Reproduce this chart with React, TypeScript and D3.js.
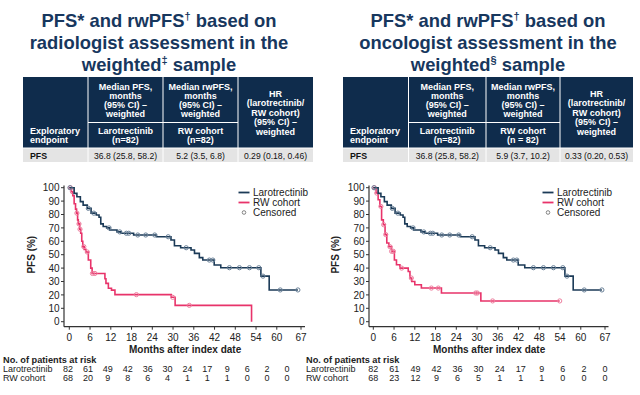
import * as d3 from 'd3';

const FONT = '"Liberation Sans", Arial, Helvetica, sans-serif';
const TITLE = '#17375e';
const HEAD = '#0f2c4c';
const NAVY = '#1b3a57';
const PINK = '#e8336a';

const xTicks = [0, 6, 12, 18, 24, 30, 36, 42, 48, 54, 60, 67];
const yTicks = [0, 10, 20, 30, 40, 50, 60, 70, 80, 90, 100];

// Larotrectinib (same cohort in both panels)
const larTimes = [0, 1.4, 2.2, 3.2, 4.0, 5.2, 6.3, 7.8, 8.6, 9.1, 9.8, 10.8, 11.7, 13.8, 15.0, 18.6, 25.2, 29.4, 30.4, 32.2, 35.2, 36.2, 37.6, 38.6, 41.9, 43.8, 55.4, 57.8];
const larSurv = [100, 95.8, 93.3, 89.6, 87, 84.6, 81, 79.6, 78, 73, 71, 70, 68.4, 67, 66, 64.7, 63.4, 61, 56.7, 55.2, 53.5, 51, 47.8, 46, 42.3, 40.3, 34, 23.7];
const larCensor = [0.2, 5.5, 7.1, 11.5, 14.6, 16.5, 17.2, 19.8, 22.1, 24.7, 28.6, 33.8, 40.5, 41.5, 46.3, 49.2, 52.1, 54.8, 56, 61, 66.1];
const larEnd = 66.1;

// RW cohort, radiologist assessment
const rwRadTimes = [0, 0.6, 1.0, 1.4, 1.8, 2.1, 2.4, 2.6, 3.0, 3.3, 3.6, 3.9, 4.3, 4.8, 5.5, 6.2, 6.6, 10.3, 10.6, 11.3, 12.2, 13.2, 29.5, 30.6, 52.7];
const rwRadSurv = [100, 97, 94, 88, 84, 81, 76, 73, 69, 66, 60, 56, 54, 52, 46, 40, 36, 32, 28.6, 25, 23.6, 20.2, 18.2, 12.2, 0];
const rwRadCensor = [0.3, 0.9, 2.2, 2.8, 3.1, 4.2, 5.2, 6.7, 7.4, 19.4, 29.9, 34.7];
const rwRadEnd = 52.7;

// RW cohort, oncologist assessment
const rwOncTimes = [0, 0.8, 1.4, 1.9, 2.4, 2.9, 3.4, 3.9, 4.5, 5.3, 6.1, 6.7, 7.7, 10.1, 10.6, 11.1, 12.0, 13.9, 19.7, 31.1];
const rwOncSurv = [100, 96, 91, 86, 76, 72.4, 65, 58.7, 56, 52.5, 46, 42.5, 40, 37.5, 32.6, 30, 27.6, 25.1, 21.4, 15.5];
const rwOncCensor = [0.3, 1.0, 2.2, 3.0, 3.6, 4.8, 5.3, 5.8, 8.2, 11.0, 16.8, 18.8, 29.6, 30.1, 34.5, 53.9];
const rwOncEnd = 53.9;

const riskLar = [82, 61, 49, 42, 36, 30, 24, 17, 9, 6, 2, 0];
const riskRwRad = [68, 20, 9, 8, 6, 4, 1, 1, 1, 0, 0, 0];
const riskRwOnc = [68, 23, 12, 9, 6, 5, 1, 1, 1, 0, 0, 0];

const titleRad = [
  [{ t: 'PFS* and rwPFS' }, { t: '†', sup: true }, { t: ' based on' }],
  [{ t: 'radiologist assessment in the' }],
  [{ t: 'weighted' }, { t: '‡', sup: true }, { t: ' sample' }],
];
const titleOnc = [
  [{ t: 'PFS* and rwPFS' }, { t: '†', sup: true }, { t: ' based on' }],
  [{ t: 'oncologist assessment in the' }],
  [{ t: 'weighted' }, { t: '§', sup: true }, { t: ' sample' }],
];

const tableRad = { rwN: '(n=82)', vals: ['36.8 (25.8, 58.2)', '5.2 (3.5, 6.8)', '0.29 (0.18, 0.46)'] };
const tableOnc = { rwN: '(n = 82)', vals: ['36.8 (25.8, 58.2)', '5.9 (3.7, 10.2)', '0.33 (0.20, 0.53)'] };

const survAt = (times: number[], surv: number[], t: number) => surv[Math.max(0, d3.bisectRight(times, t) - 1)];

type Seg = { t: string; sup?: boolean };

const Title = ({ lines, cx }: { lines: Seg[][]; cx: number }) => (
  <g>
    {lines.map((line, li) => (
      <text key={li} x={cx} y={27 + li * 22} textAnchor="middle" fontSize={18.4} fontWeight="bold" fill={TITLE}>
        {line.map((s, si) => {
          const prevSup = si > 0 && line[si - 1].sup;
          return s.sup ? (
            <tspan key={si} fontSize={11} dy={-7}>{s.t}</tspan>
          ) : (
            <tspan key={si} dy={prevSup ? 7 : 0}>{s.t}</tspan>
          );
        })}
      </text>
    ))}
  </g>
);

const Table = ({ edges, info }: { edges: number[]; info: { rwN: string; vals: string[] } }) => {
  const top = 77, split = 122.5, hb = 148, rb = 162;
  const mid = (i: number) => (edges[i] + edges[i + 1]) / 2;
  const lh = 9.2;
  const cellLines = (lines: string[], x: number, y0: number, step: number, anchor = 'middle') =>
    lines.map((l, i) => (
      <text key={i} x={x} y={y0 + i * step} textAnchor={anchor} fontSize={9} fontWeight="bold" fill="#fff">{l}</text>
    ));
  return (
    <g>
      <rect x={edges[0]} y={top} width={edges[4] - edges[0]} height={hb - top} fill={HEAD} />
      <rect x={edges[0]} y={hb} width={edges[4] - edges[0]} height={rb - hb} fill="#e4e4e4" />
      {[1, 2, 3].map(i => (
        <line key={i} x1={edges[i]} x2={edges[i]} y1={top} y2={rb} stroke="#fff" strokeWidth={1} />
      ))}
      <line x1={edges[1]} x2={edges[3]} y1={split} y2={split} stroke="#fff" strokeWidth={1} />
      <line x1={edges[0]} x2={edges[4]} y1={hb} y2={hb} stroke="#fff" strokeWidth={1} />
      {cellLines(['Median PFS,', 'months', '(95% CI) –', 'weighted'], mid(1), 89.8, lh)}
      {cellLines(['Median rwPFS,', 'months', '(95% CI) –', 'weighted'], mid(2), 89.8, lh)}
      {cellLines(['Exploratory', 'endpoint'], edges[0] + 7, 134.2, 9.2, 'start')}
      {cellLines(['Larotrectinib', '(n=82)'], mid(1), 134.2, 9.2)}
      {cellLines(['RW cohort', info.rwN], mid(2), 134.2, 9.2)}
      {cellLines(['HR', '(larotrectinib/', 'RW cohort)', '(95% CI) –', 'weighted'], mid(3), 96.5, 9.6)}
      <text x={edges[0] + 7} y={159} fontSize={8.8} fontWeight="bold" fill="#111">PFS</text>
      {info.vals.map((v, i) => (
        <text key={i} x={mid(i + 1)} y={159} textAnchor="middle" fontSize={8.6} fill="#111">{v}</text>
      ))}
    </g>
  );
};

type KMProps = {
  x0: number; x1: number; axisX: number; axisEnd: number; ylabX: number; legX: number;
  rwTimes: number[]; rwSurv: number[]; rwCensor: number[]; rwEnd: number;
};

const KM = ({ x0, x1, axisX, axisEnd, ylabX, legX, rwTimes, rwSurv, rwCensor, rwEnd }: KMProps) => {
  const xScale = d3.scaleLinear().domain([0, 67]).range([x0, x1]);
  const yScale = d3.scaleLinear().domain([0, 100]).range([321.7, 187.7]);
  const axisY = 326.7;
  const line = d3
    .line<[number, number]>()
    .curve(d3.curveStepAfter)
    .x(d => xScale(d[0]))
    .y(d => yScale(d[1]));
  const pts = (times: number[], surv: number[], end: number): [number, number][] => [
    ...times.map((t, i) => [t, surv[i]] as [number, number]),
    [end, surv[surv.length - 1]],
  ];
  const series = [
    { times: rwTimes, surv: rwSurv, censor: rwCensor, end: rwEnd, color: PINK, ccol: '#ee7f9f' },
    { times: larTimes, surv: larSurv, censor: larCensor, end: larEnd, color: NAVY, ccol: '#6b8299' },
  ];
  return (
    <g>
      {/* axes */}
      <line x1={axisX} x2={axisX} y1={185.5} y2={axisY} stroke="#333" strokeWidth={1.2} />
      <line x1={axisX} x2={axisEnd} y1={axisY} y2={axisY} stroke="#333" strokeWidth={1.2} />
      {yTicks.map(t => (
        <g key={t}>
          <line x1={axisX - 3} x2={axisX} y1={yScale(t)} y2={yScale(t)} stroke="#333" />
          <text x={axisX - 4.5} y={yScale(t) + 3.6} textAnchor="end" fontSize={10} fill="#222">{t}</text>
        </g>
      ))}
      {xTicks.map(t => (
        <g key={t}>
          <line x1={xScale(t)} x2={xScale(t)} y1={axisY} y2={axisY + 3} stroke="#333" />
          <text x={xScale(t)} y={340.5} textAnchor="middle" fontSize={10} fill="#222">{t}</text>
        </g>
      ))}
      <text transform={`translate(${ylabX},${(yScale(0) + yScale(100)) / 2}) rotate(-90)`} textAnchor="middle" fontSize={10} fontWeight="bold" fill="#222">PFS (%)</text>
      <text x={(x0 + x1) / 2} y={352.5} textAnchor="middle" fontSize={10} fontWeight="bold" fill="#222">Months after index date</text>
      {/* curves */}
      {series.map((s, i) => (
        <g key={i}>
          <path d={line(pts(s.times, s.surv, s.end)) || ''} fill="none" stroke={s.color} strokeWidth={1.6} />
          {s.censor.map((c, j) => (
            <circle key={j} cx={xScale(c)} cy={yScale(survAt(s.times, s.surv, c))} r={2.1} fill="none" stroke={s.ccol} strokeWidth={1} />
          ))}
        </g>
      ))}
      {/* legend */}
      <line x1={legX} x2={legX + 11} y1={192.5} y2={192.5} stroke={NAVY} strokeWidth={1.8} />
      <text x={legX + 14.5} y={196.2} fontSize={10} fill="#222">Larotrectinib</text>
      <line x1={legX} x2={legX + 11} y1={202.5} y2={202.5} stroke={PINK} strokeWidth={1.8} />
      <text x={legX + 14.5} y={206.2} fontSize={10} fill="#222">RW cohort</text>
      <circle cx={legX + 5.5} cy={212.5} r={1.8} fill="none" stroke="#777" strokeWidth={0.9} />
      <text x={legX + 14.5} y={216.2} fontSize={10} fill="#222">Censored</text>
    </g>
  );
};

const Risk = ({ labelX, n0, n1, rw }: { labelX: number; n0: number; n1: number; rw: number[] }) => {
  const xr = d3.scaleLinear().domain([0, riskLar.length - 1]).range([n0, n1]);
  return (
    <g fontSize={9} fill="#222">
      <text x={labelX} y={362.5} fontSize={9.2} fontWeight="bold">No. of patients at risk</text>
      <text x={labelX} y={371.5}>Larotrectinib</text>
      <text x={labelX} y={380.5}>RW cohort</text>
      {riskLar.map((v, i) => (
        <text key={'l' + i} x={xr(i)} y={371.5} textAnchor="middle">{v}</text>
      ))}
      {rw.map((v, i) => (
        <text key={'r' + i} x={xr(i)} y={380.5} textAnchor="middle">{v}</text>
      ))}
    </g>
  );
};

export default function App() {
  return (
    <svg width={640} height={395} style={{ position: 'absolute', left: 0, top: 0, background: '#fff' }} fontFamily={FONT}>
      <Title lines={titleRad} cx={159} />
      <Title lines={titleOnc} cx={488} />
      <Table edges={[23, 88, 163, 238, 313]} info={tableRad} />
      <Table edges={[343, 408.5, 486, 560, 633]} info={tableOnc} />
      <KM x0={69.3} x1={301} axisX={64} axisEnd={305} ylabX={35} legX={238.5}
        rwTimes={rwRadTimes} rwSurv={rwRadSurv} rwCensor={rwRadCensor} rwEnd={rwRadEnd} />
      <KM x0={373.3} x1={605} axisX={369} axisEnd={608.5} ylabX={338.5} legX={542.5}
        rwTimes={rwOncTimes} rwSurv={rwOncSurv} rwCensor={rwOncCensor} rwEnd={rwOncEnd} />
      <Risk labelX={3} n0={68} n1={287} rw={riskRwRad} />
      <Risk labelX={306} n0={373.3} n1={605} rw={riskRwOnc} />
    </svg>
  );
}
